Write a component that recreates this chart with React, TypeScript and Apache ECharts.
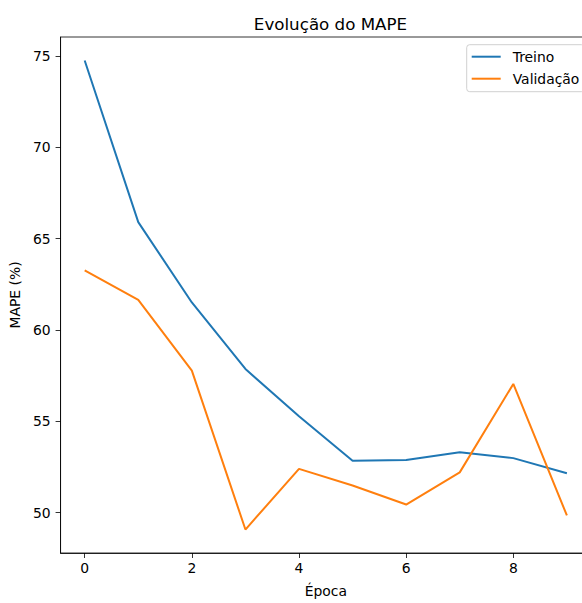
import React, { useEffect, useRef } from "react";
import * as echarts from "echarts";

const epochs = [0, 1, 2, 3, 4, 5, 6, 7, 8, 9];
const treino = [74.75, 65.9, 61.5, 57.86, 55.27, 52.84, 52.88, 53.3, 52.98, 52.15];
const validacao = [63.26, 61.64, 57.77, 49.07, 52.39, 51.48, 50.44, 52.2, 57.04, 49.84];
const xTicks = [0, 2, 4, 6, 8];
const yTicks = [50, 55, 60, 65, 70, 75];

const FONT = "DejaVu Sans";

export default function App() {
  const ref = useRef<HTMLDivElement>(null);
  useEffect(() => {
    if (!ref.current) return;
    const chart = echarts.init(ref.current, null, { renderer: "svg" });
    const xMin = -0.45;
    const xMax = 9.45;
    const all = treino.concat(validacao);
    const lo = Math.min(...all);
    const hi = Math.max(...all);
    const pad = (hi - lo) * 0.05;
    chart.setOption({
      animation: false,
      backgroundColor: "#fff",
      textStyle: { fontFamily: FONT },
      title: {
        text: "Evolução do MAPE",
        left: 325.5,
        top: 10,
        textAlign: "center",
        textStyle: { fontFamily: FONT, fontSize: 16.7, fontWeight: "normal", color: "#000" },
      },
      legend: {
        orient: "vertical",
        left: 466.7,
        top: 44.7,
        icon: "rect",
        itemWidth: 29,
        itemHeight: 2,
        itemGap: 6,
        padding: [4, 5, 5, 5],
        backgroundColor: "rgba(255,255,255,0.8)",
        borderColor: "#d0d0d0",
        borderWidth: 1,
        borderRadius: 3,
        textStyle: { fontFamily: FONT, fontSize: 13.9, color: "#000", lineHeight: 16, padding: [0, 0, 0, 7] },
        data: ["Treino", "Validação"],
      },
      grid: {
        left: 60,
        top: 37,
        right: 640 - 591,
        bottom: 50,
        show: true,
        borderColor: "#000",
        borderWidth: 0.8,
        containLabel: false,
      },
      xAxis: {
        type: "value",
        min: xMin,
        max: xMax,
        name: "Época",
        nameLocation: "middle",
        nameGap: 31,
        nameTextStyle: { fontFamily: FONT, fontSize: 13.9, color: "#000" },
        axisLine: { show: true, onZero: false, lineStyle: { color: "#000", width: 0.8 } },
        axisTick: { show: true, length: 5, lineStyle: { color: "#000", width: 0.8 }, customValues: xTicks },
        axisLabel: { fontFamily: FONT, fontSize: 13.9, color: "#000", margin: 8, customValues: xTicks },
        splitLine: { show: false },
      },
      yAxis: {
        type: "value",
        min: lo - pad,
        max: hi + pad,
        name: "MAPE (%)",
        nameLocation: "middle",
        nameGap: 36,
        nameRotate: 90,
        nameTextStyle: { fontFamily: FONT, fontSize: 13.9, color: "#000" },
        axisLine: { show: true, onZero: false, lineStyle: { color: "#000", width: 0.8 } },
        axisTick: { show: true, length: 5, lineStyle: { color: "#000", width: 0.8 }, customValues: yTicks },
        axisLabel: { fontFamily: FONT, fontSize: 13.9, color: "#000", margin: 10, customValues: yTicks },
        splitLine: { show: false },
      },
      series: [
        {
          name: "Treino",
          type: "line",
          data: epochs.map((e, i) => [e, treino[i]]),
          symbol: "none",
          lineStyle: { color: "#1f77b4", width: 2 },
          itemStyle: { color: "#1f77b4" },
        },
        {
          name: "Validação",
          type: "line",
          data: epochs.map((e, i) => [e, validacao[i]]),
          symbol: "none",
          lineStyle: { color: "#ff7f0e", width: 2 },
          itemStyle: { color: "#ff7f0e" },
        },
      ],
    });
    return () => chart.dispose();
  }, []);
  return (
    <div style={{ position: "fixed", left: 0, top: 0, width: 582, height: 603, overflow: "hidden", background: "#fff" }}>
      <div ref={ref} style={{ width: 640, height: 603 }} />
    </div>
  );
}
